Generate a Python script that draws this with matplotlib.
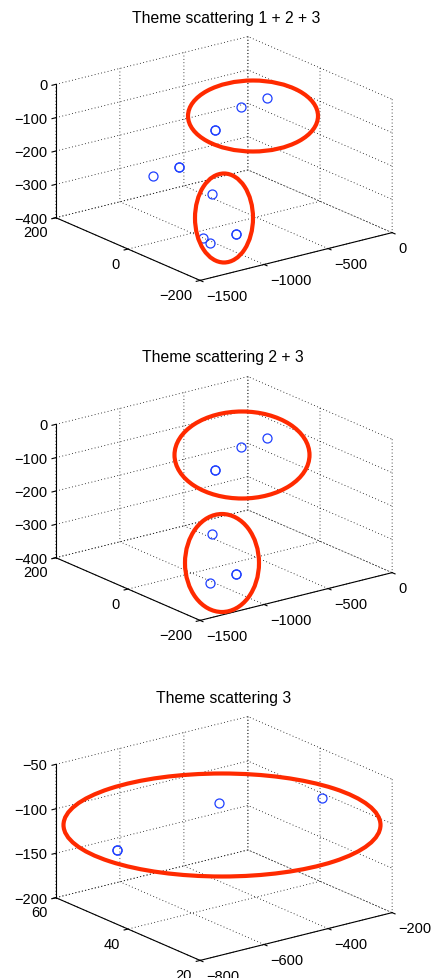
import matplotlib
matplotlib.use("Agg")
import matplotlib.pyplot as plt
from matplotlib.patches import Ellipse

plt.rcParams["font.family"] = ["Liberation Sans", "DejaVu Sans"]
plt.rcParams["font.size"] = 10.5
plt.rcParams["grid.color"] = "k"
plt.rcParams["grid.linestyle"] = (0, (1, 3))
plt.rcParams["grid.linewidth"] = 0.6

# point coordinates per theme (repeated entries = coinciding points)
theme1_x = [-879, -879, -1147, -1034]
theme1_y = [78, 78, 55, -43]
theme1_z = [-250, -250, -240, -390]

theme2_x = [-830, -940, -940, -1095]
theme2_y = [5, -100, -100, -84]
theme2_z = [-300, -360, -360, -380]

theme3_x = [-665, -665, -503, -340]
theme3_y = [55, 55, 41, 27]
theme3_z = [-150, -150, -87, -71]

titles = ["Theme scattering 1 + 2 + 3", "Theme scattering 2 + 3", "Theme scattering 3"]

W, H = 435, 979
fig = plt.figure(figsize=(W / 100, H / 100), dpi=100)

S = 320
BLUE = (0.12, 0.25, 1.0)
RED = "#ff2a00"


def make_axes(cy, xlim, ylim, zlim, xticks, yticks, zticks):
    cx = 224
    left = cx - 0.5135 * S
    top = cy - 0.4865 * S
    ax = fig.add_axes([left / W, 1 - (top + S) / H, S / W, S / H],
                      projection="3d", proj_type="ortho")
    ax.view_init(elev=19.2, azim=-127.1)
    ax.set_box_aspect((242, 240.3, 141.9), zoom=356.8 / S)
    ax.set_xlim(xlim)
    ax.set_ylim(ylim)
    ax.set_zlim(zlim)
    ax.set_xticks(xticks)
    ax.set_yticks(yticks)
    ax.set_zticks(zticks)
    for a in (ax.xaxis, ax.yaxis, ax.zaxis):
        a.set_pane_color((1, 1, 1, 0))
        a.line.set_color("k")
        a.line.set_linewidth(0.8)
        a._axinfo["tick"]["inward_factor"] = 0.25
        a._axinfo["tick"]["outward_factor"] = 0.0
    ax.tick_params(axis="x", pad=-3)
    ax.tick_params(axis="y", pad=-3)
    ax.tick_params(axis="z", pad=-5)
    plt.setp(ax.get_xticklabels(), ha="left")
    plt.setp(ax.get_yticklabels(), ha="right")
    plt.setp(ax.get_zticklabels(), ha="right", va="center_baseline")
    ax.set_facecolor("none")
    return ax


def scatter(ax, xs, ys, zs):
    ax.plot(xs, ys, zs, "o", ms=6.5, mfc="none", mec=BLUE, mew=0.9)


def ring(cx, cy, w, h):
    fig.add_artist(Ellipse((cx / W, 1 - cy / H), w / W, h / H,
                           transform=fig.transFigure, fill=False,
                           ec=RED, lw=3.0, zorder=10))


# panel 1
ax1 = make_axes(159.5, (-1500, 0), (-200, 200), (-400, 0),
                [-1500, -1000, -500, 0], [-200, 0, 200], [-400, -300, -200, -100, 0])
scatter(ax1, theme1_x + theme2_x + theme3_x, theme1_y + theme2_y + theme3_y,
        theme1_z + theme2_z + theme3_z)
fig.text(226 / W, 1 - 18 / H, titles[0], ha="center", va="center", fontsize=11.3)
ring(253, 117, 130, 71)
ring(224, 219, 58, 89)

# panel 2
ax2 = make_axes(499.5, (-1500, 0), (-200, 200), (-400, 0),
                [-1500, -1000, -500, 0], [-200, 0, 200], [-400, -300, -200, -100, 0])
scatter(ax2, theme2_x + theme3_x, theme2_y + theme3_y, theme2_z + theme3_z)
fig.text(223 / W, 1 - 358 / H, titles[1], ha="center", va="center", fontsize=11.3)
ring(242, 456, 135, 87)
ring(222, 564, 74, 98)

# panel 3
ax3 = make_axes(839.5, (-800, -200), (20, 60), (-200, -50),
                [-800, -600, -400, -200], [20, 40, 60], [-200, -150, -100, -50])
scatter(ax3, theme3_x, theme3_y, theme3_z)
fig.text(224 / W, 1 - 698 / H, titles[2], ha="center", va="center", fontsize=11.3)
ring(222, 826, 317, 103)

fig.savefig("out.png", dpi=100)
